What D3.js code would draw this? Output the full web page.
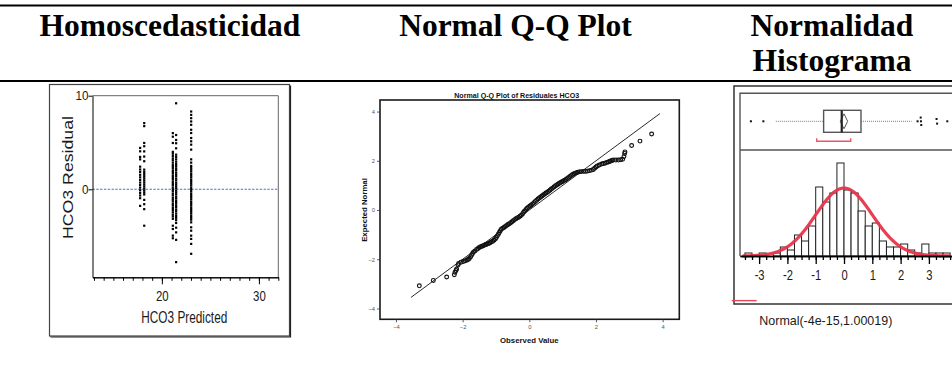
<!DOCTYPE html>
<html>
<head>
<meta charset="utf-8">
<script src="https://cdn.jsdelivr.net/npm/d3@7"></script>
<style>
  html, body { margin: 0; padding: 0; background: #fff; }
  svg { display: block; }
</style>
</head>
<body>
<svg id="chart" width="952" height="384"></svg>
<script>
// ---------- header ----------
const headerTitles = [["Homoscedasticidad"], ["Normal Q-Q Plot"], ["Normalidad", "Histograma"]];

// ---------- residuals vs predicted (HCO3) ----------
const predictedLevels = [17.76, 18.18, 21.13, 21.47, 23.02];
const residualsA1 = [4.42, 4.06, 3.46, 3.2, 2.42, 2.12, 1.85, 1.55, 1.28, 1.0, 0.72, 0.45, 0.18, -0.1, -0.38, -0.66, -0.95, -1.77];
const residualsA2 = [7.07, 6.75, 4.95, 4.6, 4.05, 3.5, 3.0, 2.1, 1.85, 1.62, 1.4, 1.18, 0.96, 0.74, 0.52, 0.3, 0.08, -0.14, -0.35, -0.55, -1.13, -1.59, -2.12, -3.89];
const residualsB1 = [6.0, 5.62, 4.95, 4.0, 3.8, 3.55, 3.3, 3.1, 2.85, 2.6, 2.4, 2.2, 1.95, 1.75, 1.5, 1.3, 1.1, 0.85, 0.65, 0.45, 0.2, 0.0, -0.2, -0.45, -0.65, -0.9, -1.1, -1.3, -1.55, -1.75, -2.0, -2.2, -2.45, -2.7, -2.9, -3.15, -3.89, -4.24, -4.95, -5.23];
const residualsB2 = [9.19, 5.8, 5.27, 4.92, 4.38, 3.7, 3.45, 3.2, 2.95, 2.7, 2.5, 2.25, 2.05, 1.8, 1.6, 1.4, 1.15, 0.95, 0.7, 0.5, 0.3, 0.1, -0.15, -0.35, -0.55, -0.8, -1.0, -1.25, -1.45, -1.7, -1.9, -2.15, -2.35, -2.6, -2.85, -3.05, -3.3, -3.6, -4.1, -4.6, -5.4, -7.78];
const residualsC = [8.31, 7.95, 7.6, 7.25, 6.89, 6.36, 6.01, 5.48, 5.13, 4.77, 4.24, 3.2, 2.85, 2.5, 2.3, 2.1, 1.9, 1.65, 1.45, 1.25, 1.0, 0.8, 0.6, 0.4, 0.15, -0.05, -0.25, -0.5, -0.7, -0.9, -1.1, -1.35, -1.55, -1.75, -2.0, -2.2, -2.4, -2.6, -2.85, -3.05, -3.25, -3.53, -4.06, -4.42, -4.95, -5.3, -5.83, -6.89];
const residualGroups = [residualsA1, residualsA2, residualsB1, residualsB2, residualsC];
const scatterXDomain = [12.85, 32];
const scatterYDomain = [-9.4, 10];
const scatterXMinorTicks = d3.range(13, 33);
const scatterXTicks = [20, 30];
const scatterYTicks = [0, 10];

// ---------- normal Q-Q plot of residuals ----------
const qqObserved = [
  -3.30, -2.88, -2.48, -2.25, -2.23, -2.20, -2.18, -2.14, -2.12, -2.05,
  -1.98, -1.92, -1.86, -1.83,
  -1.80, -1.76, -1.73, -1.70, -1.67, -1.63, -1.58, -1.54, -1.50, -1.46,
  -1.42, -1.38, -1.34, -1.30, -1.26, -1.22, -1.18, -1.14, -1.10, -1.06,
  -1.02, -0.99, -0.96, -0.93, -0.90, -0.87, -0.84, -0.80, -0.76, -0.72,
  -0.68, -0.64, -0.60, -0.56, -0.52, -0.48, -0.44, -0.40, -0.36, -0.32,
  -0.28, -0.24, -0.20, -0.17, -0.14, -0.10, -0.06, -0.02, 0.02, 0.06,
  0.10, 0.14, 0.18, 0.22, 0.26, 0.30, 0.34, 0.38, 0.42, 0.46,
  0.50, 0.54, 0.58, 0.62, 0.66, 0.70, 0.74, 0.78, 0.82, 0.86,
  0.90, 0.94, 0.98, 1.02, 1.06, 1.10, 1.14, 1.18, 1.22, 1.26,
  1.30, 1.34, 1.38, 1.42, 1.46, 1.50, 1.55, 1.62, 1.68, 1.74,
  1.80, 1.86, 1.92, 1.96, 2.00, 2.04, 2.10, 2.17, 2.22, 2.27,
  2.32, 2.37, 2.41, 2.44, 2.48, 2.52, 2.60, 2.67, 2.74, 2.80,
  2.84, 2.86, 2.87, 3.07, 3.32, 3.67
];
const qqExpected = [
  -3.08, -2.86, -2.72, -2.63, -2.53, -2.46, -2.40, -2.23, -2.17, -2.12,
  -2.09, -2.06, -2.03, -2.00,
  -1.97, -1.90, -1.83, -1.76, -1.70, -1.66, -1.60, -1.56, -1.52, -1.49,
  -1.47, -1.45, -1.42, -1.40, -1.38, -1.36, -1.33, -1.30, -1.27, -1.23,
  -1.18, -1.12, -1.05, -0.98, -0.91, -0.84, -0.78, -0.74, -0.71, -0.67,
  -0.63, -0.59, -0.56, -0.52, -0.48, -0.44, -0.39, -0.35, -0.32, -0.29,
  -0.25, -0.21, -0.15, -0.09, -0.04, 0.02, 0.08, 0.12, 0.16, 0.20,
  0.25, 0.30, 0.35, 0.40, 0.45, 0.49, 0.53, 0.57, 0.61, 0.65,
  0.69, 0.72, 0.76, 0.80, 0.85, 0.89, 0.94, 0.98, 1.02, 1.05,
  1.09, 1.12, 1.15, 1.18, 1.21, 1.24, 1.28, 1.32, 1.36, 1.40,
  1.44, 1.47, 1.50, 1.52, 1.54, 1.55, 1.56, 1.57, 1.57, 1.58,
  1.60, 1.62, 1.65, 1.70, 1.75, 1.79, 1.83, 1.87, 1.89, 1.90,
  1.93, 1.95, 1.97, 1.99, 2.01, 2.03, 2.03, 2.03, 2.04, 2.06,
  2.17, 2.30, 2.36, 2.62, 2.80, 3.09
];
const qqXDomain = [-4.48, 4.5];
const qqYDomain = [-4.44, 4.47];
const qqTicks = [-4, -2, 0, 2, 4];
const qqReferenceRange = [-3.55, 3.92];

// ---------- histogram with outlier box plot ----------
const histStart = -3.5;
const histBinWidth = 0.25;
const histCounts = [1, 0, 1, 0, 1, 3, 2, 7, 5, 10, 23, 18, 21, 31, 22, 21, 15, 10, 11, 5, 3, 3, 4, 2, 1, 4, 1, 1, 1];
const histXDomain = [-3.675, 4.2];
const histYDomain = [0, 35.33];
const histTicks = [-3, -2, -1, 0, 1, 2, 3];
const histMinorTicks = d3.range(-3.5, 4.01, 0.25);
const fitMean = -4e-15;
const fitSd = 1.00019;
const fitLabel = "Normal(-4e-15,1.00019)";
const boxQuartiles = [-0.72, -0.08, 0.60];          // Q1, median, Q3
const boxWhiskers = [-2.41, 2.39];
const meanInterval = [-0.13, 0.13];
const boxOutliers = [-3.29, -2.85, 2.60, 2.71, 2.72, 2.73, 3.27, 3.29, 3.65];
const outlierJitter = [0, 0, 0, 0.34, 0, -0.34, 0.21, -0.21, 0];
const shortestHalf = [-0.965, 0.237];

const svg = d3.select("#chart");
svg.append("rect").attr("width", 952).attr("height", 384).attr("fill", "#fff");

const SANS = "'Liberation Sans', Arial, Helvetica, sans-serif";
const SERIF = "'Liberation Serif', 'Times New Roman', serif";

// ---------- header rules and titles ----------
[5.5, 81].forEach(y => {
  svg.append("line").attr("x1", 0).attr("x2", 952).attr("y1", y).attr("y2", y)
    .attr("stroke", "#000").attr("stroke-width", 2.2);
});
const titleCenters = [170, 515.5, 832];
headerTitles.forEach((lines, i) => {
  lines.forEach((t, j) => {
    svg.append("text")
      .attr("x", titleCenters[i]).attr("y", 35.5 + j * 35)
      .attr("text-anchor", "middle")
      .attr("font-family", SERIF).attr("font-weight", "bold").attr("font-size", 31.5)
      .attr("fill", "#000").text(t);
  });
});

// ---------- panel 1: residual by predicted ----------
{
  const frame = svg.append("g");
  frame.append("rect").attr("x", 49.5).attr("y", 84.5).attr("width", 240).attr("height", 251.5)
    .attr("fill", "#fff").attr("stroke", "#444").attr("stroke-width", 1.2);
  frame.append("path").attr("d", "M290.5,85.5V337H50.5")
    .attr("fill", "none").attr("stroke", "#222").attr("stroke-width", 1.2);

  const sx = d3.scaleLinear().domain(scatterXDomain).range([92.5, 278.3]);
  const sy = d3.scaleLinear().domain(scatterYDomain).range([277.3, 95.7]);

  // top and right border of the plot area
  svg.append("path")
    .attr("d", `M${sx.range()[0]},${sy.range()[1]}H${sx.range()[1]}V${sy.range()[0]}`)
    .attr("fill", "none").attr("stroke", "#666").attr("stroke-width", 1);

  // zero reference
  svg.append("line")
    .attr("x1", sx.range()[0]).attr("x2", sx.range()[1])
    .attr("y1", sy(0)).attr("y2", sy(0))
    .attr("stroke", "#4a6fe0").attr("stroke-width", 1.1).attr("stroke-dasharray", "2.4,1.4");

  // residual points
  const pts = [];
  residualGroups.forEach((arr, gi) => arr.forEach(r => pts.push([predictedLevels[gi], r])));
  svg.append("g").selectAll("rect").data(pts).join("rect")
    .attr("x", d => sx(d[0]) - 1.1).attr("y", d => sy(d[1]) - 1.1)
    .attr("width", 2.2).attr("height", 2.2).attr("fill", "#000");

  // x axis: minor then labelled ticks
  const xg = svg.append("g").attr("transform", `translate(0,${sy.range()[0]})`);
  xg.call(d3.axisBottom(sx).tickValues(scatterXMinorTicks).tickSize(3.5).tickSizeOuter(0).tickFormat(""));
  const xg2 = svg.append("g").attr("transform", `translate(0,${sy.range()[0]})`);
  xg2.call(d3.axisBottom(sx).tickValues(scatterXTicks).tickSize(7).tickSizeOuter(0));
  [xg, xg2].forEach(g => g.selectAll("path,line").attr("stroke", "#000"));
  xg2.selectAll("text")
    .attr("y", 23.4).attr("dy", null)
    .attr("font-family", SANS).attr("font-size", 15).attr("fill", "#1a1a1a")
    .attr("transform", "scale(0.76,1)");

  const yg = svg.append("g").attr("transform", `translate(${sx.range()[0]},0)`);
  yg.call(d3.axisLeft(sy).tickValues(scatterYTicks).tickSize(4).tickSizeOuter(0).tickPadding(0.5));
  yg.selectAll("path,line").attr("stroke", "#000");
  yg.selectAll("text").attr("font-family", SANS).attr("font-size", 13).attr("fill", "#1a1a1a")
    .attr("transform", "scale(0.9,1)");

  svg.append("text")
    .attr("x", 184.3).attr("y", 323.3).attr("text-anchor", "middle")
    .attr("font-family", SANS).attr("font-size", 16).attr("fill", "#1a1a1a")
    .attr("textLength", 86).attr("lengthAdjust", "spacingAndGlyphs")
    .text("HCO3 Predicted");
  svg.append("text")
    .attr("transform", "translate(72.6,177.5) rotate(-90)")
    .attr("text-anchor", "middle")
    .attr("font-family", SANS).attr("font-size", 14.2).attr("fill", "#1a1a1a")
    .attr("textLength", 123).attr("lengthAdjust", "spacingAndGlyphs")
    .text("HCO3 Residual");
}

// ---------- panel 2: normal Q-Q plot ----------
{
  const qx = d3.scaleLinear().domain(qqXDomain).range([380, 679.3]);
  const qy = d3.scaleLinear().domain(qqYDomain).range([319.3, 100]);

  svg.append("text")
    .attr("x", 516.7).attr("y", 97.6).attr("text-anchor", "middle")
    .attr("font-family", SANS).attr("font-weight", "bold").attr("font-size", 7.1).attr("fill", "#111")
    .text("Normal Q-Q Plot of Residuales HCO3");

  svg.append("line")
    .attr("x1", qx(qqReferenceRange[0])).attr("y1", qy(qqReferenceRange[0]))
    .attr("x2", qx(qqReferenceRange[1])).attr("y2", qy(qqReferenceRange[1]))
    .attr("stroke", "#111").attr("stroke-width", 0.9);

  svg.append("g").selectAll("circle").data(d3.zip(qqObserved, qqExpected)).join("circle")
    .attr("cx", d => qx(d[0])).attr("cy", d => qy(d[1])).attr("r", 1.9)
    .attr("fill", "none").attr("stroke", "#111").attr("stroke-width", 1.15);

  svg.append("rect")
    .attr("x", qx.range()[0]).attr("y", qy.range()[1])
    .attr("width", qx.range()[1] - qx.range()[0]).attr("height", qy.range()[0] - qy.range()[1])
    .attr("fill", "none").attr("stroke", "#1a1a1a").attr("stroke-width", 1.6);

  const xg = svg.append("g").attr("transform", `translate(0,${qy.range()[0]})`)
    .call(d3.axisBottom(qx).tickValues(qqTicks).tickSize(3).tickSizeOuter(0).tickPadding(2.5));
  const yg = svg.append("g").attr("transform", `translate(${qx.range()[0]},0)`)
    .call(d3.axisLeft(qy).tickValues(qqTicks).tickSize(3).tickSizeOuter(0).tickPadding(2));
  [xg, yg].forEach(g => {
    g.select(".domain").remove();
    g.selectAll("line").attr("stroke", "#333").attr("stroke-width", 0.8);
    g.selectAll("text").attr("font-family", SANS).attr("font-size", 5.8).attr("fill", "#555");
  });

  svg.append("text")
    .attr("x", 529.3).attr("y", 342.5).attr("text-anchor", "middle")
    .attr("font-family", SANS).attr("font-weight", "bold").attr("font-size", 7.8).attr("fill", "#111")
    .text("Observed Value");
  svg.append("text")
    .attr("transform", "translate(366.6,210) rotate(-90)").attr("text-anchor", "middle")
    .attr("font-family", SANS).attr("font-weight", "bold").attr("font-size", 7.8).attr("fill", "#111")
    .text("Expected Normal");
}

// ---------- panel 3: box plot + histogram with fitted normal ----------
{
  const hx = d3.scaleLinear().domain(histXDomain).range([740, 740 + 28.3 * (histXDomain[1] - histXDomain[0])]);
  const hy = d3.scaleLinear().domain(histYDomain).range([256, 150]);
  const by = d3.scaleLinear().domain([-1, 1]).range([132.3, 110.3]);
  const right = 960;

  // outer frame
  svg.append("path").attr("d", `M${right},86H734V304H${right}`)
    .attr("fill", "none").attr("stroke", "#333").attr("stroke-width", 1.5);
  // inner frame and separator between box plot and histogram
  svg.append("path").attr("d", `M${right},93.3H740V${hy(0)}`)
    .attr("fill", "none").attr("stroke", "#555").attr("stroke-width", 1.4);
  svg.append("line").attr("x1", 740).attr("x2", right).attr("y1", 150).attr("y2", 150)
    .attr("stroke", "#555").attr("stroke-width", 1.4);

  // histogram bars
  const bins = histCounts.map((c, i) => ({ x0: histStart + i * histBinWidth, x1: histStart + (i + 1) * histBinWidth, n: c }))
    .filter(b => b.n > 0);
  svg.append("g").selectAll("rect").data(bins).join("rect")
    .attr("x", d => hx(d.x0)).attr("y", d => hy(d.n))
    .attr("width", d => hx(d.x1) - hx(d.x0)).attr("height", d => hy(0) - hy(d.n))
    .attr("fill", "#fff").attr("stroke", "#222").attr("stroke-width", 1);

  // fitted normal density scaled to counts
  const total = d3.sum(histCounts);
  const pdf = u => Math.exp(-0.5 * ((u - fitMean) / fitSd) ** 2) / (fitSd * Math.sqrt(2 * Math.PI));
  const curveXs = d3.range(-3.55, 3.74, 0.02);
  svg.append("path")
    .datum(curveXs)
    .attr("d", d3.line().x(u => hx(u)).y(u => hy(total * histBinWidth * pdf(u))))
    .attr("fill", "none").attr("stroke", "#e8354c").attr("stroke-width", 3.2)
    .attr("stroke-opacity", 0.95).attr("stroke-linecap", "round");

  // x axis
  const ax1 = svg.append("g").attr("transform", `translate(0,${hy(0)})`)
    .call(d3.axisBottom(hx).tickValues(histMinorTicks).tickSize(4).tickSizeOuter(0).tickFormat(""));
  const ax2 = svg.append("g").attr("transform", `translate(0,${hy(0)})`)
    .call(d3.axisBottom(hx).tickValues(histTicks).tickSize(8).tickSizeOuter(0).tickFormat(d => String(d)));
  [ax1, ax2].forEach(g => g.selectAll("path,line").attr("stroke", "#000").attr("stroke-width", 1.3));
  ax2.selectAll("text").attr("y", 24).attr("dy", null)
    .attr("font-family", SANS).attr("font-size", 14).attr("fill", "#1a1a1a")
    .attr("transform", "scale(0.8,1)");

  // whiskers
  const mid = by(0);
  [[boxWhiskers[0], boxQuartiles[0]], [boxQuartiles[2], boxWhiskers[1]]].forEach(([a, b]) => {
    svg.append("line").attr("x1", hx(a)).attr("x2", hx(b)).attr("y1", mid).attr("y2", mid)
      .attr("stroke", "#777").attr("stroke-width", 1).attr("stroke-dasharray", "1,1");
  });
  // box
  svg.append("rect")
    .attr("x", hx(boxQuartiles[0])).attr("y", by(1))
    .attr("width", hx(boxQuartiles[2]) - hx(boxQuartiles[0])).attr("height", by(-1) - by(1))
    .attr("fill", "#fff").attr("stroke", "#555").attr("stroke-width", 1.4);
  // mean diamond
  const meanX = hx(fitMean);
  svg.append("path")
    .attr("d", `M${hx(meanInterval[0])},${mid}L${meanX},${by(0.68)}L${hx(meanInterval[1])},${mid}L${meanX},${by(-0.68)}Z`)
    .attr("fill", "none").attr("stroke", "#555").attr("stroke-width", 1);
  // median
  svg.append("line").attr("x1", hx(boxQuartiles[1])).attr("x2", hx(boxQuartiles[1]))
    .attr("y1", by(1)).attr("y2", by(-1)).attr("stroke", "#222").attr("stroke-width", 2.2);
  // outliers
  svg.append("g").selectAll("rect").data(d3.zip(boxOutliers, outlierJitter)).join("rect")
    .attr("x", d => hx(d[0]) - 1).attr("y", d => by(d[1]) - 1)
    .attr("width", 2).attr("height", 2).attr("fill", "#111");
  // shortest half bracket
  const bY = by(-1) + 9;
  svg.append("path")
    .attr("d", `M${hx(shortestHalf[0])},${bY - 3}V${bY}H${hx(shortestHalf[1])}V${bY - 3}`)
    .attr("fill", "none").attr("stroke", "#ee5566").attr("stroke-width", 1.4);

  // legend for fitted curve
  svg.append("line").attr("x1", 731.7).attr("x2", 756.7).attr("y1", 300.6).attr("y2", 300.6)
    .attr("stroke", "#e8455a").attr("stroke-width", 1.4);
  svg.append("text")
    .attr("x", 759.3).attr("y", 325).attr("font-family", SANS).attr("font-size", 13)
    .attr("fill", "#1a1a1a").attr("textLength", 133).attr("lengthAdjust", "spacingAndGlyphs")
    .text(fitLabel);
}
</script>
</body>
</html>
